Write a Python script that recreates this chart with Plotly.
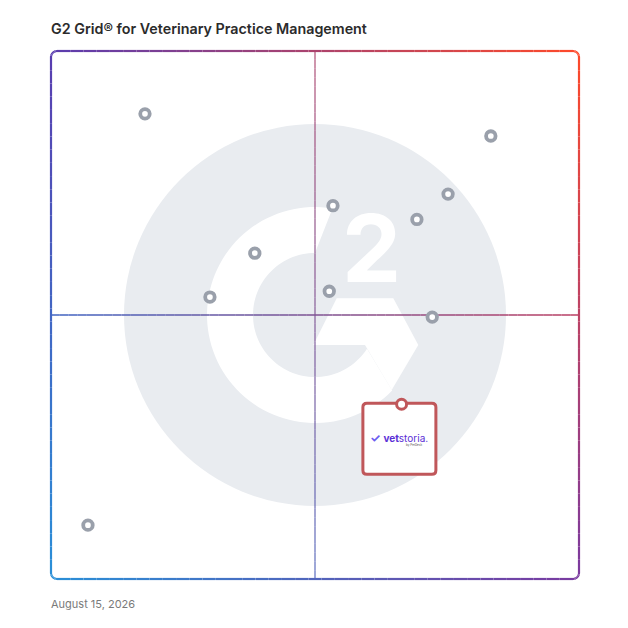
import numpy as np
import plotly.graph_objects as go

# ---------------- data ----------------
title_text = "G2 Grid® for Veterinary Practice Management"
date_text = "August 15, 2026"

# other products (market presence on y, satisfaction on x), 0-100 scale
product_x = [17.8, 83.3, 75.2, 53.4, 69.3, 38.6, 30.1, 52.7, 72.2, 7.0]
product_y = [88.1, 83.9, 72.9, 70.7, 68.1, 61.7, 53.4, 54.5, 49.6, 10.2]

featured_name = ["vetstoria"]
featured_x = [66.4]
featured_y = [33.1]

# ---------------- geometry helpers (styling only) ----------------
OFF = 8  # page body margin offset
W = H = 628
L, T = 51 - OFF, 51 - OFF
R, B = W - L - 528, H - T - 528
PPU = 528 / 100.0  # pixels per axis unit


def P(px, py):
    # page pixel -> data coords
    return ((px - 51) / PPU, (579 - py) / PPU)


TL = np.array([90, 61, 176])
TR = np.array([255, 74, 42])
BR = np.array([122, 58, 160])
BL = np.array([42, 144, 216])


def grad(u, v):
    top = TL * (1 - u) + TR * u
    bot = BL * (1 - u) + BR * u
    c = top * (1 - v) + bot * v
    return "rgb(%d,%d,%d)" % tuple(np.clip(c, 0, 255).astype(int))


shapes = []

# watermark: G2 logo
GRAY = "#e9ecf0"
cx, cy = 50, 50
Rbig = 191 / PPU
shapes.append(dict(type="circle", xref="x", yref="y", x0=cx - Rbig, x1=cx + Rbig,
                   y0=cy - Rbig, y1=cy + Rbig, fillcolor=GRAY, line=dict(width=0),
                   layer="below"))

r_out = 108 / PPU
r_in = 62 / PPU
a_out = np.radians(np.linspace(80.7, 315.6, 80))
a_in = np.radians(np.linspace(327, 90, 80))
pts = [(cx + r_out * np.cos(a), cy + r_out * np.sin(a)) for a in a_out]
pts += [(cx + r_in * np.cos(a), cy + r_in * np.sin(a)) for a in a_in]
path = "M " + " L ".join("%.3f,%.3f" % p for p in pts) + " Z"
shapes.append(dict(type="path", xref="x", yref="y", path=path, fillcolor="white",
                   line=dict(width=0), layer="below"))

chev_px = [(336.7, 298.3), (393.3, 298.3), (418.3, 345), (391.7, 390), (365, 345), (313.3, 345)]
chev = [P(*p) for p in chev_px]
path = "M " + " L ".join("%.3f,%.3f" % p for p in chev) + " Z"
shapes.append(dict(type="path", xref="x", yref="y", path=path, fillcolor="white",
                   line=dict(width=0), layer="below"))

# center lines with gradient (data coords so they sit above the watermark)
N = 60
for i in range(N):
    a, b = i / N, (i + 1) / N
    m = (a + b) / 2
    shapes.append(dict(type="line", xref="x", yref="y", x0=a * 100, x1=b * 100, y0=50, y1=50,
                       line=dict(color=grad(m, 0.5), width=1.6), opacity=0.95, layer="below"))
    shapes.append(dict(type="line", xref="x", yref="y", x0=50, x1=50, y0=100 - a * 100, y1=100 - b * 100,
                       line=dict(color=grad(0.5, m), width=1.6), opacity=0.7, layer="below"))

# rounded gradient border (paper coords so it is not clipped)
rc = 6 / 528
border = []


def arc(cxx, cyy, a0, a1, n=8):
    return [(cxx + rc * np.cos(np.radians(t)), cyy + rc * np.sin(np.radians(t)))
            for t in np.linspace(a0, a1, n)]


side_n = 40
border += [(x, 1) for x in np.linspace(rc, 1 - rc, side_n)]
border += arc(1 - rc, 1 - rc, 90, 0)
border += [(1, y) for y in np.linspace(1 - rc, rc, side_n)]
border += arc(1 - rc, rc, 0, -90)
border += [(x, 0) for x in np.linspace(1 - rc, rc, side_n)]
border += arc(rc, rc, -90, -180)
border += [(0, y) for y in np.linspace(rc, 1 - rc, side_n)]
border += arc(rc, 1 - rc, 180, 90)
border.append(border[0])
for (x0, y0), (x1, y1) in zip(border[:-1], border[1:]):
    u = (x0 + x1) / 2
    v = 1 - (y0 + y1) / 2
    shapes.append(dict(type="line", xref="paper", yref="paper", x0=x0, x1=x1, y0=y0, y1=y1,
                       line=dict(color=grad(u, v), width=2.2), layer="above"))

# featured product card (positioned relative to its point)
fx, fy = featured_x[0], featured_y[0]
bx0 = fx - 38.7 / PPU
bx1 = fx + 34.3 / PPU
by1 = fy + 1 / PPU
by0 = fy - 70 / PPU
cr = 4 / PPU
card = (f"M {bx0+cr},{by1} L {bx1-cr},{by1} Q {bx1},{by1} {bx1},{by1-cr} "
        f"L {bx1},{by0+cr} Q {bx1},{by0} {bx1-cr},{by0} L {bx0+cr},{by0} "
        f"Q {bx0},{by0} {bx0},{by0+cr} L {bx0},{by1-cr} Q {bx0},{by1} {bx0+cr},{by1} Z")
shapes.append(dict(type="path", xref="x", yref="y", path=card, fillcolor="white",
                   line=dict(color="#c0575a", width=3), layer="below"))

fig = go.Figure()
fig.add_trace(go.Scatter(
    x=product_x, y=product_y, mode="markers", hoverinfo="skip",
    marker=dict(size=9.5, color="white", line=dict(color="#9aa0ab", width=3.8)),
    showlegend=False))
fig.add_trace(go.Scatter(
    x=featured_x, y=featured_y, mode="markers", hoverinfo="skip",
    marker=dict(size=10, color="white", line=dict(color="#c0575a", width=3)),
    showlegend=False))

annotations = [
    dict(text=title_text, xref="paper", yref="paper", x=-2 / 528, y=(579 - 29) / 528,
         xanchor="left", yanchor="middle", showarrow=False,
         font=dict(family="Inter", size=14.3, color="#2b2b2b", weight=600)),
    dict(text=date_text, xref="paper", yref="paper", x=-2 / 528, y=(579 - 604) / 528,
         xanchor="left", yanchor="middle", showarrow=False,
         font=dict(family="Inter", size=11, color="#7a7a7a")),
    dict(text="2", xref="x", yref="y", x=P(371.7, 0)[0], y=P(0, 248)[1],
         xanchor="center", yanchor="middle", showarrow=False,
         font=dict(family="Inter", size=94, color="white", weight=700)),
    dict(text="<span style='color:#6a5cf0;font-size:12px'><b>✓</b></span> <b>vet</b>storia.",
         xref="x", yref="y", x=fx - 2.5 / PPU, y=fy - 33 / PPU,
         xanchor="center", yanchor="middle", showarrow=False,
         font=dict(family="Inter", size=10, color="#5b2fd6")),
    dict(text="by PetDesk", xref="x", yref="y", x=fx + 12 / PPU, y=fy - 41 / PPU,
         xanchor="center", yanchor="middle", showarrow=False,
         font=dict(family="Inter", size=3, color="#555")),
]

fig.update_layout(
    width=W, height=H,
    margin=dict(l=L, r=R, t=T, b=B),
    paper_bgcolor="white", plot_bgcolor="white",
    xaxis=dict(range=[0, 100], visible=False, fixedrange=True),
    yaxis=dict(range=[0, 100], visible=False, fixedrange=True),
    shapes=shapes, annotations=annotations,
)

fig.write_html("out.html")
